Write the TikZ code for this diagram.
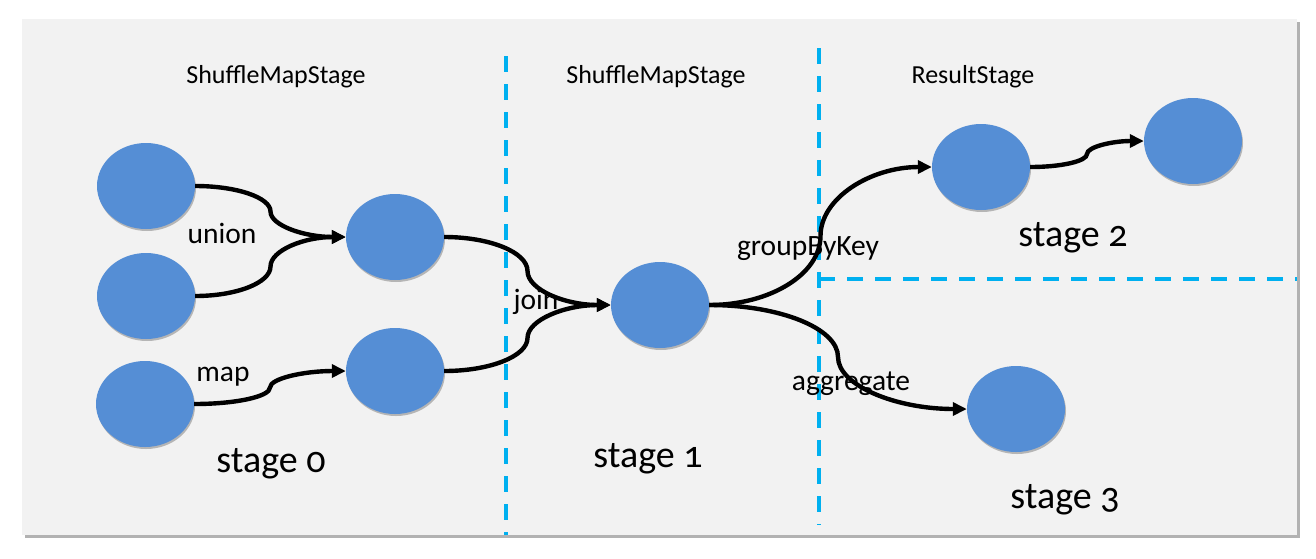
\documentclass[tikz,border=0pt]{standalone}
\usepackage{fontspec}
\setmainfont{Carlito}[Numbers=OldStyle]
\usetikzlibrary{shapes.geometric,arrows.meta,calc,shadows}
\definecolor{panel}{HTML}{F2F2F2}
\definecolor{nodeblue}{HTML}{558ED5}
\definecolor{dashblue}{HTML}{00B0F0}
\begin{document}
\begin{tikzpicture}[x=1pt,y=-1pt,
  blob/.style={ellipse,fill=nodeblue,minimum width=98pt,minimum height=86pt,inner sep=0pt,
    drop shadow={shadow xshift=1pt,shadow yshift=-2pt,opacity=0.25,fill=black}},
  conn/.style={line width=4.4pt,-{Triangle[length=14pt,width=13pt]},
    to path={let \p1=(\tikztostart),\p2=(\tikztotarget),
                 \n1={0.5*\x1+0.5*\x2},\n2={0.5*\y1+0.5*\y2} in
      .. controls ({\x1+0.55*(\n1-\x1)},\y1) and (\n1,{\n2-0.55*(\n2-\y1)}) .. (\n1,\n2)
      .. controls (\n1,{\n2+0.55*(\y2-\n2)}) and ({\x2-0.55*(\x2-\n1)},\y2) .. (\tikztotarget)}},
  divider/.style={draw=dashblue,line width=4pt,dash pattern=on 16pt off 12pt},
  head/.style={anchor=base,font=\fontsize{26}{30}\selectfont},
  elabel/.style={anchor=base,font=\fontsize{29.5}{33}\selectfont},
  slabel/.style={anchor=base,font=\fontsize{38}{42}\selectfont}]
\useasboundingbox (0,0) rectangle (1316,558);
% panel with shadow
\fill[black!30] (25,22) rectangle (1300,538);
\fill[panel] (22,19) rectangle (1297,535);

% dividers
\coordinate (v1t) at (506,56);
\coordinate (v1b) at (506,535);
\coordinate (v2t) at (819,48);
\coordinate (v2b) at (819,525);
\coordinate (h1l) at (819,279);
\coordinate (h1r) at (1297,279);
\draw[divider] (v1t) -- (v1b);
\draw[divider] (v2t) -- (v2b);
\draw[divider] (h1l) -- (h1r);

% nodes
\node[blob] (A1) at (146,186) {};
\node[blob] (A2) at (146,296) {};
\node[blob] (A3) at (145,404) {};
\node[blob] (B1) at (395,237) {};
\node[blob] (B2) at (395,371) {};
\node[blob] (C)  at (660,305) {};
\node[blob] (D1) at (981,167) {};
\node[blob] (D2) at (1193,141) {};
\node[blob] (E)  at (1016,409) {};

% connectors
\draw[conn] (A1.east) to (B1.west);
\draw[conn] (A2.east) to (B1.west);
\draw[conn] (A3.east) to (B2.west);
\draw[conn] (B1.east) to (C.west);
\draw[conn] (B2.east) to (C.west);
\draw[conn] (C.east) to (D1.west);
\draw[conn] (C.east) to (E.west);
\draw[conn] (D1.east) to (D2.west);

% headers
\node[head] (h0) at (276,83) {ShuffleMapStage};
\node[head] (h1) at (656,83) {ShuffleMapStage};
\node[head] (h2) at (973,83) {ResultStage};

% edge labels
\node[elabel] (lu) at (222,243) {union};
\node[elabel] (lm) at (223,381) {map};
\node[elabel] (lj) at (536,309) {join};
\node[elabel] (lg) at (808,255) {groupByKey};
\node[elabel] (la) at (851,390) {aggregate};

% stage labels
\node[slabel] (s0) at (271,472) {stage 0};
\node[slabel] (s1) at (648,467) {stage 1};
\node[slabel] (s2) at (1073,246) {stage 2};
\node[slabel] (s3) at (1065,508) {stage 3};
\end{tikzpicture}
\end{document}
